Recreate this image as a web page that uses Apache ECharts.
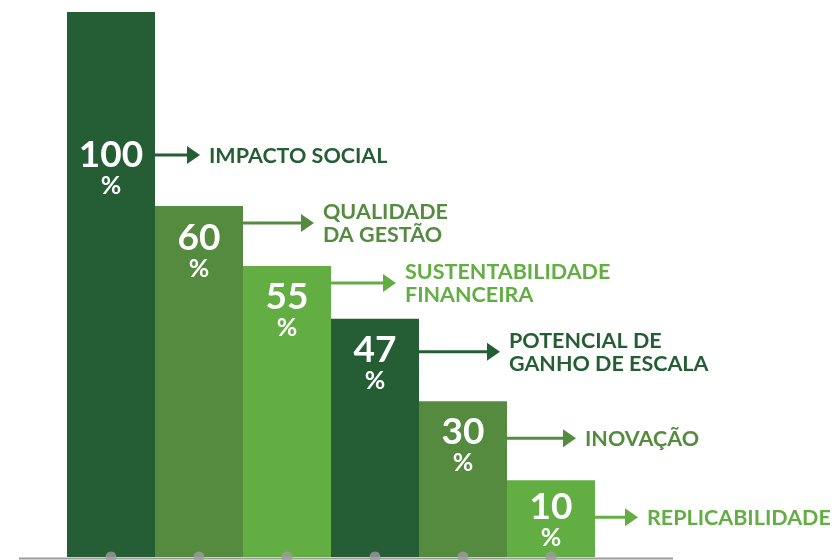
<!DOCTYPE html>
<html>
<head>
<meta charset="utf-8">
<script src="https://cdn.jsdelivr.net/npm/echarts@6/dist/echarts.min.js"></script>
<style>
  html, body { margin: 0; padding: 0; background: #fff; }
  #chart { width: 834px; height: 560px; }
</style>
</head>
<body>
<div id="chart"></div>
<script>
// criteria, in the order the bars are drawn
const criteria = [
    'IMPACTO SOCIAL',
    'QUALIDADE\nDA GESTÃO',
    'SUSTENTABILIDADE\nFINANCEIRA',
    'POTENCIAL DE\nGANHO DE ESCALA',
    'INOVAÇÃO',
    'REPLICABILIDADE'
];
// printed percentages
const shares = [100, 60, 55, 47, 30, 10];
// bar heights as drawn in the picture (0-100 scale, not proportional to the labels)
const barHeights = [100, 64.4, 53.4, 43.7, 28.6, 14.1];

const barColors = ['#255e34', '#558b3f', '#63ae42', '#255e34', '#558b3f', '#63ae42'];
// layout of the callouts: px below bar top for number, px below bar top for arrow, arrow length
const numOffset = [143, 32, 31, 31, 31, 27];
const arrowOffset = [143, 17, 17, 33, 37, 37];
const arrowLen = [45, 71, 65, 81, 69, 43];

const chart = echarts.init(document.getElementById('chart'), null, { renderer: 'canvas' });
const FONT = 'Lato, "Open Sans", sans-serif';

function renderCallout(params, api) {
    const i = api.value(0);
    const top = api.coord([i, api.value(1)]);
    const w = api.size([1, 0])[0];
    const cx = top[0];
    const x0 = cx + w / 2;
    const numY = top[1] + numOffset[i];
    const ay = top[1] + arrowOffset[i];
    const tip = x0 + arrowLen[i];
    const color = barColors[i];
    return {
        type: 'group',
        children: [
            {
                type: 'text',
                style: {
                    text: String(shares[i]), x: cx, y: numY,
                    align: 'center', verticalAlign: 'middle',
                    font: 'bold 37px ' + FONT, fill: '#fff'
                }
            },
            {
                type: 'text',
                style: {
                    text: '%', x: cx, y: numY + 31,
                    align: 'center', verticalAlign: 'middle',
                    font: 'bold 25px ' + FONT, fill: '#fff'
                }
            },
            {
                type: 'line',
                shape: { x1: x0, y1: ay, x2: tip - 10, y2: ay },
                style: { stroke: color, lineWidth: 3 }
            },
            {
                type: 'polygon',
                shape: { points: [[tip - 13, ay - 9], [tip, ay], [tip - 13, ay + 9]] },
                style: { fill: color }
            },
            {
                type: 'text',
                style: {
                    text: criteria[i], x: tip + 9, y: ay + 1,
                    align: 'left', verticalAlign: 'middle',
                    font: 'bold 21.5px ' + FONT, lineHeight: 23, fill: color
                }
            }
        ]
    };
}

chart.setOption({
    animation: false,
    grid: { left: 67, right: 239, top: 12, bottom: 3 },
    xAxis: {
        type: 'category',
        data: criteria,
        show: false
    },
    yAxis: {
        type: 'value',
        min: 0,
        max: 100,
        show: false
    },
    series: [
        {
            type: 'bar',
            data: barHeights.map((v, i) => ({ value: v, itemStyle: { color: barColors[i] } })),
            barWidth: '100%',
            barGap: '0%'
        },
        {
            type: 'scatter',
            data: barHeights.map((v, i) => [i, 0]),
            symbol: 'circle',
            symbolSize: 11,
            itemStyle: { color: '#9c9c9c' },
            z: 5
        },
        {
            type: 'custom',
            data: barHeights.map((v, i) => [i, v]),
            renderItem: renderCallout,
            clip: false,
            z: 6
        }
    ],
    graphic: [
        {
            type: 'line',
            z: 10,
            shape: { x1: 19, y1: 558.5, x2: 673, y2: 558.5 },
            style: { stroke: '#9c9c9c', lineWidth: 2 }
        }
    ]
});
</script>
</body>
</html>
